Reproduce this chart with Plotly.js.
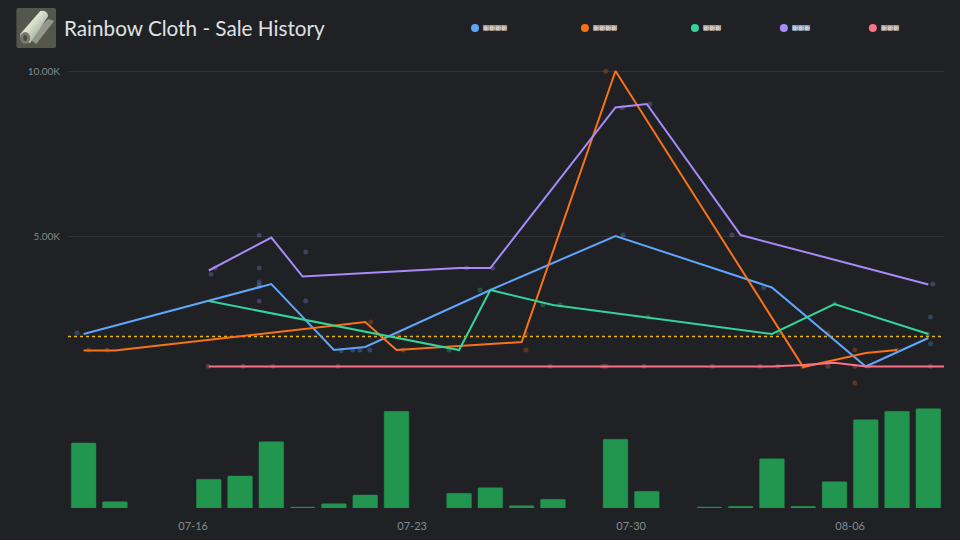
<!DOCTYPE html>
<html>
<head>
<meta charset="utf-8">
<script src="https://cdn.plot.ly/plotly-3.0.1.min.js"></script>
<style>
  html, body { margin: 0; padding: 0; background: #1f2125; }
  #chart { width: 960px; height: 540px; }
</style>
</head>
<body>
<div id="chart"></div>
<script>
// days are counted from 1 July, so 31.5 is noon on 07-31 and 37 is 08-06
// the names show as missing-glyph boxes in the picture, so only their lengths can be read
var legendNames = ['\u0378\u0378\u0378\u0378', '\u0378\u0378\u0378\u0378', '\u0378\u0378\u0378', '\u0378\u0378\u0378', '\u0378\u0378\u0378'];
var colors = ['#60a5fa', '#f97316', '#34d399', '#a78bfa', '#fb7185'];

// daily average lines
var blueDays = [12.5, 16.5, 18.5, 20.5, 21.5, 25.5, 29.5, 34.5, 37.5, 39.5];
var blueVals = [2030, 3030, 3545, 1545, 1636, 3364, 5000, 3440, 1045, 1909];
var orangeDays = [12.5, 13.5, 21.5, 22.5, 26.5, 29.5, 35.5, 37.5, 38.5];
var orangeVals = [1530, 1530, 2394, 1545, 1788, 10000, 1030, 1455, 1545];
var greenDays = [16.5, 24.5, 25.5, 27.5, 34.5, 36.5, 39.5];
var greenVals = [3030, 1545, 3364, 2909, 2030, 2939, 2030];
var purpleDays = [16.5, 18.5, 19.5, 24.5, 25.5, 29.5, 30.5, 33.5, 39.5];
var purpleVals = [3955, 4955, 3773, 4030, 4030, 8894, 9000, 5030, 3530];
var pinkDays = [16.5, 34.5, 35.5, 36.5, 37.5, 41];
var pinkVals = [1045, 1045, 1091, 1160, 1045, 1045];

// single sales
var blueDotDays = [12.29, 18.11, 18.11, 18.11, 20.73, 21.1, 21.33, 21.65, 29.74, 34.24, 37.6, 39.57, 39.57];
var blueDotVals = [2060, 3606, 3515, 3455, 1524, 1545, 1545, 1545, 5030, 3433, 1060, 2545, 1736];
var orangeDotDays = [12.65, 13.25, 21.68, 22.55, 22.71, 26.64, 26.64, 29.19, 35.49, 36.29, 37.15, 37.15, 38.49];
var orangeDotVals = [1545, 1545, 2394, 2000, 1545, 2039, 1545, 9990, 1039, 2060, 1545, 545, 1545];
var greenDotDays = [24.18, 25.17, 27.18, 27.73, 30.54, 34.72, 36.51, 39.48];
var greenDotVals = [1545, 3364, 2918, 2918, 2545, 2060, 2939, 2030];
var purpleDotDays = [16.57, 16.7, 18.11, 18.11, 18.11, 19.6, 19.6, 24.74, 25.58, 29.71, 30.6, 33.22, 39.64];
var purpleDotVals = [3839, 4030, 5021, 4030, 3030, 4515, 3030, 4030, 4030, 8888, 9000, 5030, 3545];
var pinkDotDays = [16.48, 17.6, 18.55, 20.63, 27.41, 29.09, 29.2, 30.41, 32.6, 34.12, 34.69, 36.29, 37.15, 39.57];
var pinkDotVals = [1050, 1050, 1050, 1050, 1050, 1050, 1050, 1050, 1050, 1050, 1050, 1050, 1050, 1050];

// volume bars, one a day from 07-12, null where nothing sold
var volumeDays = [12.5, 13.5, 14.5, 15.5, 16.5, 17.5, 18.5, 19.5, 20.5, 21.5, 22.5, 23.5, 24.5, 25.5,
                  26.5, 27.5, 28.5, 29.5, 30.5, 31.5, 32.5, 33.5, 34.5, 35.5, 36.5, 37.5, 38.5, 39.5];
var volumeVals = [65, 6.3, null, null, 28.7, 32, 66.3, 1, 4.3, 13, 96.7, null, 14.7, 20.3,
                  2.3, 8.7, null, 68.7, 16.7, null, 1, 1.7, 49.3, 1.7, 26.3, 88.3, 96.7, 99.3];

var averageVal = 1955;
var startDay = 12, endDay = 40;

function toDate(day) {
  return Date.UTC(2024, 6, 1) + (day - 1) * 86400000;
}

var lineDays = [blueDays, orangeDays, greenDays, purpleDays, pinkDays];
var lineVals = [blueVals, orangeVals, greenVals, purpleVals, pinkVals];
var dotDays = [blueDotDays, orangeDotDays, greenDotDays, purpleDotDays, pinkDotDays];
var dotVals = [blueDotVals, orangeDotVals, greenDotVals, purpleDotVals, pinkDotVals];

var data = [];
data.push({
  type: 'bar', x: volumeDays.map(toDate), y: volumeVals, yaxis: 'y2', width: 0.79 * 86400000,
  marker: { color: '#22964f', line: { color: '#1f8a4a', width: 0.5 }, cornerradius: 1 }
});
data.push({
  type: 'scatter', mode: 'lines', x: [startDay, endDay].map(toDate), y: [averageVal, averageVal],
  line: { color: '#eab308', width: 1.5, dash: '3px,3px' }
});
dotDays.forEach(function (days, i) {
  data.push({
    type: 'scatter', mode: 'markers', x: days.map(toDate), y: dotVals[i],
    marker: { color: colors[i], size: 5, opacity: 0.27 }
  });
});
lineDays.forEach(function (days, i) {
  data.push({
    type: 'scatter', mode: 'lines', x: days.map(toDate), y: lineVals[i], cliponaxis: false,
    line: { color: colors[i], width: 2 }
  });
});

// legend sits over the top of the plot, plot area is 67.8 to 944.2 px
var plotLeft = 67.8, plotWidth = 876.4, plotHeight = 508;
var legendDots = [475, 585, 695, 784, 873];
var shapes = [], annotations = [];
legendDots.forEach(function (px, i) {
  var fx = (px - plotLeft) / plotWidth;
  shapes.push({
    type: 'circle', xref: 'paper', yref: 'paper', xsizemode: 'pixel', ysizemode: 'pixel',
    xanchor: fx, yanchor: 1 - 28 / plotHeight, x0: -4, x1: 4, y0: -4, y1: 4,
    fillcolor: colors[i], line: { width: 0 }
  });
  annotations.push({
    xref: 'paper', yref: 'paper', x: (px + 8 - plotLeft) / plotWidth, y: 1 - 28 / plotHeight,
    xanchor: 'left', yanchor: 'middle', showarrow: false, text: legendNames[i],
    font: { family: 'Liberation Sans', size: 6, color: '#e5e7eb' }, xshift: -2
  });
});

var icon = 'data:image/svg+xml;utf8,' + encodeURIComponent(
  '<svg xmlns="http://www.w3.org/2000/svg" width="40" height="40" viewBox="0 0 40 40">' +
  '<defs><linearGradient id="g" x1="0" y1="0" x2="1" y2="1">' +
  '<stop offset="0" stop-color="#b9c28e"/><stop offset="0.4" stop-color="#dfe2cf"/>' +
  '<stop offset="0.7" stop-color="#a9b6a6"/><stop offset="1" stop-color="#7d8375"/></linearGradient></defs>' +
  '<rect width="40" height="40" rx="2" fill="#55564c"/>' +
  '<path d="M20 36 L38 13 L32 11 L12 30 Z" fill="#94988a"/>' +
  '<path d="M4 26 L24 3 Q31 2 32 8 L14 35 Q4 36 4 26 Z" fill="url(#g)"/>' +
  '<ellipse cx="9" cy="30" rx="5" ry="6" fill="#777a6c"/><ellipse cx="9" cy="30" rx="2" ry="3" fill="#4b4c42"/>' +
  '</svg>');

var layout = {
  width: 960, height: 540,
  margin: { l: plotLeft, r: 960 - plotLeft - plotWidth, t: 0, b: 32, pad: 0 },
  paper_bgcolor: '#1f2125', plot_bgcolor: '#1f2125',
  showlegend: false, bargap: 0.2,
  title: {
    text: 'Rainbow Cloth - Sale History',
    xref: 'container', yref: 'container', x: 64 / 960, xanchor: 'left', y: 1 - 29 / 540, yanchor: 'middle',
    font: { family: 'Lato', size: 20.7, color: '#dfe1e5' }
  },
  xaxis: {
    type: 'date', range: [toDate(startDay), toDate(endDay)],
    tick0: toDate(16), dtick: 7 * 86400000, tickformat: '%m-%d',
    showgrid: false, zeroline: false, showline: false,
    ticks: 'outside', ticklen: 8, tickcolor: 'rgba(0,0,0,0)',
    tickfont: { family: 'Lato', size: 11, color: '#85898f' }
  },
  yaxis: {
    range: [-3242, 12152], tickvals: [5000, 10000], ticktext: ['5.00K', '10.00K'],
    gridcolor: '#303236', gridwidth: 1, zeroline: false, showline: false,
    ticks: 'outside', ticklen: 5, tickcolor: 'rgba(0,0,0,0)',
    tickfont: { family: 'Lato', size: 10, color: '#85898f' }
  },
  yaxis2: {
    overlaying: 'y', range: [0, plotHeight], showgrid: false, zeroline: false,
    showticklabels: false, ticks: ''
  },
  images: [{
    source: icon, xref: 'paper', yref: 'paper', x: (16 - plotLeft) / plotWidth, y: 1 - 8 / plotHeight,
    sizex: 40 / plotWidth, sizey: 40 / plotHeight, xanchor: 'left', yanchor: 'top', sizing: 'stretch', layer: 'above'
  }],
  shapes: shapes,
  annotations: annotations
};

Plotly.newPlot('chart', data, layout, { displayModeBar: false, staticPlot: true });
</script>
</body>
</html>
